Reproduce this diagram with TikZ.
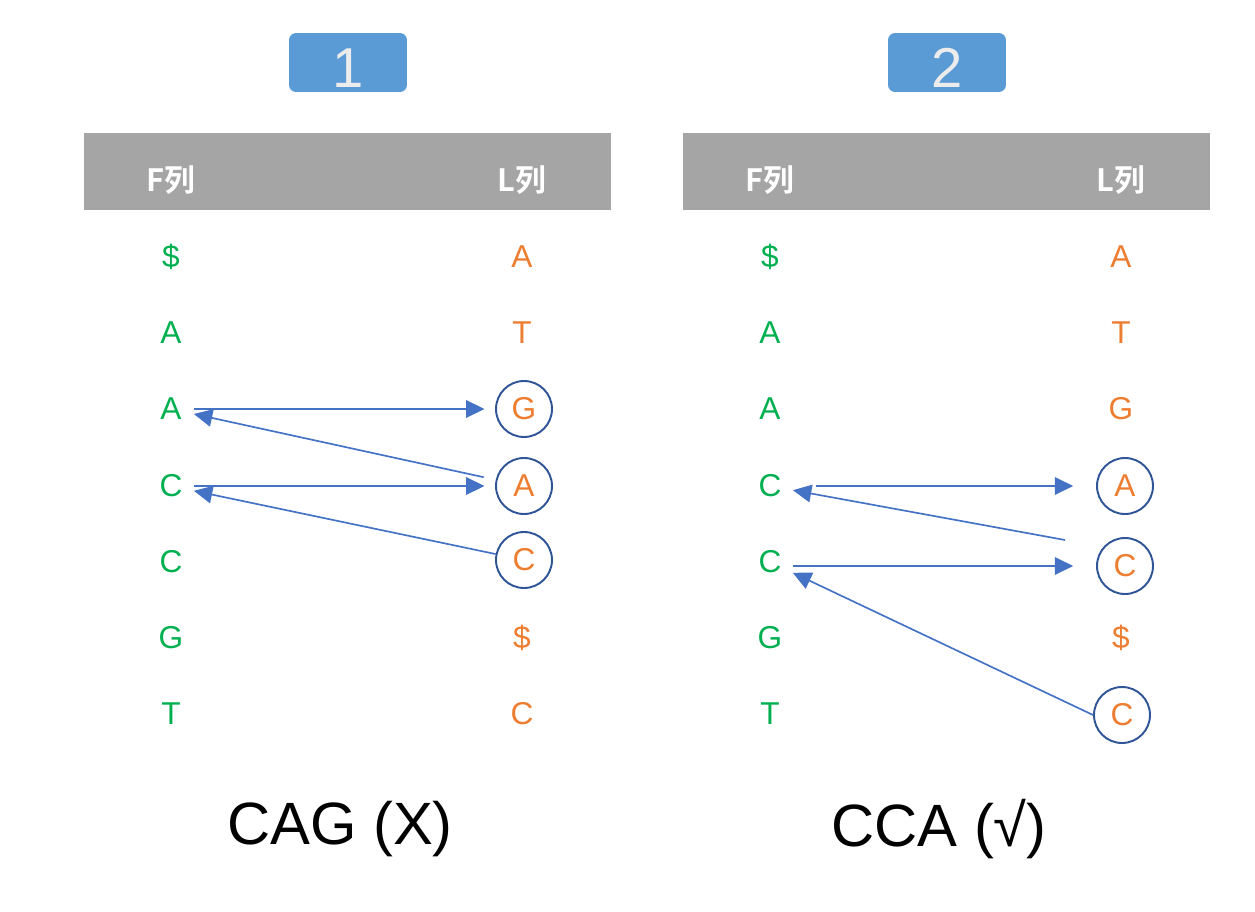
\documentclass[tikz,border=0pt]{standalone}
\usepackage{fontspec}
\setmainfont{Liberation Sans}
\newfontfamily\cjk{Noto Sans CJK SC}[BoldFont={Noto Sans CJK SC Bold}]
\usetikzlibrary{arrows.meta}

\definecolor{fgreen}{HTML}{00B050}
\definecolor{lorange}{HTML}{ED7D31}
\definecolor{linkblue}{HTML}{4472C4}
\definecolor{ringblue}{HTML}{2F5597}
\definecolor{hdrgray}{HTML}{A5A5A5}
\definecolor{badgeblue}{HTML}{5B9BD5}

\tikzset{
  fchar/.style={text=fgreen, font=\fontsize{18}{20}\selectfont, minimum width=0.9cm, minimum height=0.9cm, inner sep=0pt},
  lchar/.style={text=lorange, font=\fontsize{18}{20}\selectfont, minimum size=1.12cm, inner sep=0pt},
  ring/.style={lchar, circle, draw=ringblue, line width=1.1pt},
  hbar/.style={fill=hdrgray, minimum width=10.54cm, minimum height=1.54cm, inner sep=0pt},
  htext/.style={text=white, font=\cjk\bfseries\fontsize{17.5}{19}\selectfont},
  badge/.style={fill=badgeblue, rounded corners=4pt, minimum width=2.36cm, minimum height=1.18cm, inner sep=0pt, text height=28.6pt, text depth=0pt, text=gray!15, font=\fontsize{32}{34}\selectfont},
  verdict/.style={font=\fontsize{34}{38}\selectfont},
  link/.style={draw=linkblue, line width=0.95pt, -{Triangle[length=10.5pt,width=10pt]}},
}

\begin{document}
\begin{tikzpicture}[x=0.02cm, y=-0.02cm]
    \useasboundingbox (0,0) rectangle (1255,912);

    % panel 1
    \node[badge] (badgeA) at (348,62.5) {1};
    \node[hbar] (barA) at (347.5,171.5) {};
    \node[htext] (fheadA) at (171,180) {F列};
    \node[htext] (lheadA) at (522,180) {L列};

    \node[fchar] (fa1) at (171,257) {\$};
    \node[fchar] (fa2) at (171,333) {A};
    \node[fchar] (fa3) at (171,409) {A};
    \node[fchar] (fa4) at (171,486) {C};
    \node[fchar] (fa5) at (171,562) {C};
    \node[fchar] (fa6) at (171,638) {G};
    \node[fchar] (fa7) at (171,714) {T};

    \node[lchar] (la1) at (522,257) {A};
    \node[lchar] (la2) at (522,333) {T};
    \node[ring] (la3) at (524,409) {G};
    \node[ring] (la4) at (524,486) {A};
    \node[ring] (la5) at (524,560) {C};
    \node[lchar] (la6) at (522,638) {\$};
    \node[lchar] (la7) at (522,714) {C};

    \draw[link] (la5) -- (fa4);
    \draw[link, shorten >=6pt] (fa4) -- (la4);
    \draw[link, shorten <=7pt] (la4) -- (fa3);
    \draw[link, shorten >=6pt] (fa3) -- (la3);

    \node[verdict] (capA) at (340,829) {CAG (X)};

    % panel 2
    \node[badge] (badgeB) at (947,62.5) {2};
    \node[hbar] (barB) at (946.5,171.5) {};
    \node[htext] (fheadB) at (770,180) {F列};
    \node[htext] (lheadB) at (1121,180) {L列};

    \node[fchar] (fb1) at (770,257) {\$};
    \node[fchar] (fb2) at (770,333) {A};
    \node[fchar] (fb3) at (770,409) {A};
    \node[fchar] (fb4) at (770,486) {C};
    \node[fchar] (fb5) at (770,562) {C};
    \node[fchar] (fb6) at (770,638) {G};
    \node[fchar] (fb7) at (770,714) {T};

    \node[lchar] (lb1) at (1121,257) {A};
    \node[lchar] (lb2) at (1121,333) {T};
    \node[lchar] (lb3) at (1121,409) {G};
    \node[ring] (lb4) at (1125,486) {A};
    \node[ring] (lb5) at (1125,566) {C};
    \node[lchar] (lb6) at (1121,638) {\$};
    \node[ring] (lb7) at (1122,715) {C};

    \coordinate (kink) at (1065,540);
    \draw[link] (lb7.west) -- (fb5);
    \draw[link, shorten >=13pt] (fb5.east |- lb5.west) -- (lb5.west);
    \draw[link] (kink) -- (fb4);
    \draw[link, shorten <=13pt, shorten >=13pt] (fb4) -- (lb4);

    \node[verdict] (capB) at (939,829) {CCA (√)};
\end{tikzpicture}
\end{document}
